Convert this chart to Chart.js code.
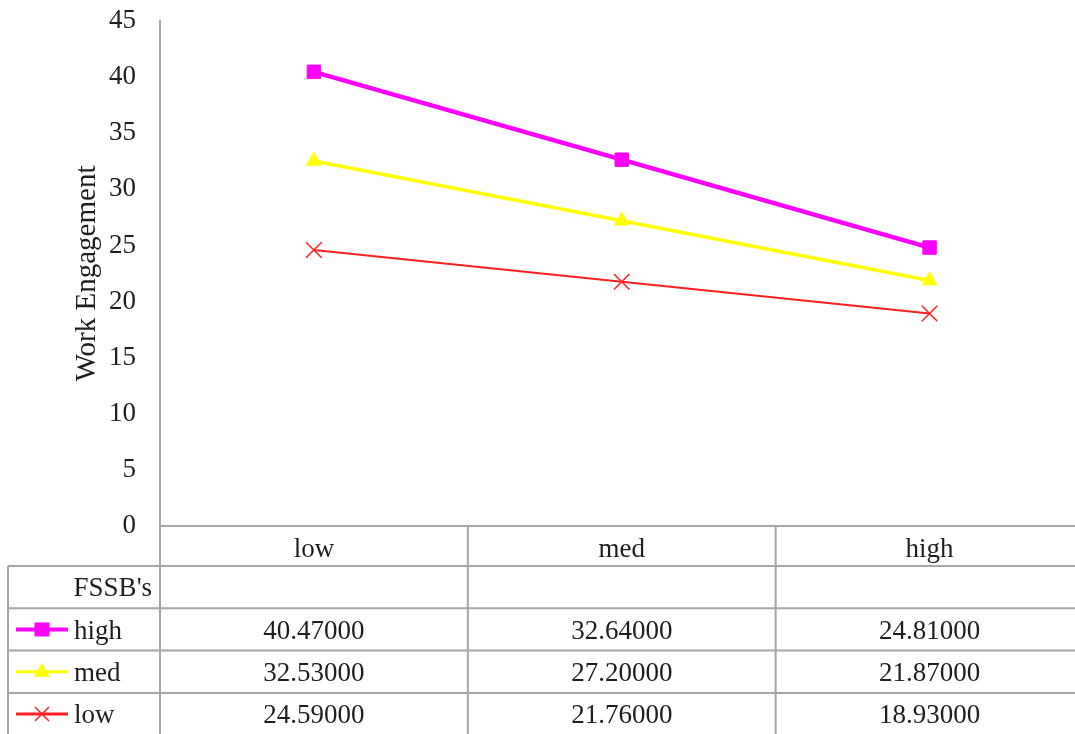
<!DOCTYPE html>
<html>
<head>
<meta charset="utf-8">
<title>Work Engagement by FSSB's</title>
<script src="https://cdn.jsdelivr.net/npm/chart.js@4/dist/chart.umd.min.js"></script>
<style>
  html, body { margin: 0; padding: 0; background: #ffffff; overflow: hidden; }
  canvas { display: block; }
</style>
</head>
<body>
<canvas id="chart" width="1096" height="734"></canvas>
<script>
// Supervisor support levels on the x axis
const categories = ['low', 'med', 'high'];
// Work engagement means, one array per FSSB's level
const highFSSB = [40.47, 32.64, 24.81];
const medFSSB  = [32.53, 27.20, 21.87];
const lowFSSB  = [24.59, 21.76, 18.93];
const seriesNames = ['high', 'med', 'low'];
const tableHeader = "FSSB's";
const yTitle = 'Work Engagement';
const yMin = 0, yMax = 45, yStep = 5;

const FONT = "'Liberation Serif', 'Times New Roman', serif";
const GRID = '#a6a6a6';
const TEXT = '#1e1e1e';
const LABEL_SIZE = 27;

const styles = [
  { color: '#ff00ff', width: 4.5, point: 'rect',     radius: 9.5, pointBorder: 1 },
  { color: '#ffff00', width: 3.5, point: 'triangle', radius: 8.5, pointBorder: 1 },
  { color: '#ff2020', width: 2,   point: 'crossRot', radius: 11,  pointBorder: 1.5 }
];
const seriesData = [highFSSB, medFSSB, lowFSSB];

const datasets = seriesData.map((d, i) => ({
  label: seriesNames[i],
  data: d,
  borderColor: styles[i].color,
  backgroundColor: styles[i].color,
  borderWidth: styles[i].width,
  pointStyle: styles[i].point,
  pointRadius: styles[i].radius,
  pointHoverRadius: styles[i].radius,
  pointBorderWidth: styles[i].pointBorder,
  pointBorderColor: styles[i].color,
  pointBackgroundColor: styles[i].color,
  tension: 0,
  fill: false
}));

// Small legend key used inside the data table
function drawKey(ctx, style, cx, cy) {
  ctx.save();
  ctx.strokeStyle = style.color;
  ctx.fillStyle = style.color;
  ctx.lineWidth = style.point === 'rect' ? 4 : 3;
  ctx.beginPath();
  ctx.moveTo(cx - 26, cy);
  ctx.lineTo(cx + 26, cy);
  ctx.stroke();
  if (style.point === 'rect') {
    ctx.fillRect(cx - 7.5, cy - 7, 15, 14);
  } else if (style.point === 'triangle') {
    ctx.beginPath();
    ctx.moveTo(cx, cy - 9);
    ctx.lineTo(cx + 8, cy + 5);
    ctx.lineTo(cx - 8, cy + 5);
    ctx.closePath();
    ctx.fill();
  } else {
    ctx.lineWidth = 1.5;
    ctx.beginPath();
    ctx.moveTo(cx - 7, cy - 7); ctx.lineTo(cx + 7, cy + 7);
    ctx.moveTo(cx + 7, cy - 7); ctx.lineTo(cx - 7, cy + 7);
    ctx.stroke();
  }
  ctx.restore();
}

// Data table under the category axis, laid out on the x scale's columns
const dataTablePlugin = {
  id: 'dataTable',
  afterDraw(chart) {
    const { ctx } = chart;
    const x = chart.scales.x;
    const n = categories.length;
    const step = x.width / n;
    const headTop = x.bottom;
    const rowH = 42.3;
    const rows = 1 + seriesData.length;
    const tableLeft = 8;
    const bottom = headTop + rowH * rows;
    const textShift = 2;

    ctx.save();
    ctx.strokeStyle = GRID;
    ctx.lineWidth = 2;
    ctx.beginPath();
    for (let r = 0; r <= rows; r++) {
      const y = headTop + r * rowH;
      ctx.moveTo(tableLeft, y);
      ctx.lineTo(x.right, y);
    }
    for (let i = 0; i <= n; i++) {
      const xx = x.left + i * step;
      ctx.moveTo(xx, x.top);
      ctx.lineTo(xx, bottom);
    }
    ctx.moveTo(tableLeft, headTop);
    ctx.lineTo(tableLeft, bottom);
    ctx.stroke();

    ctx.fillStyle = TEXT;
    ctx.font = LABEL_SIZE + 'px ' + FONT;
    ctx.textBaseline = 'middle';
    ctx.textAlign = 'right';
    ctx.fillText(tableHeader, x.left - 8, headTop + rowH / 2 + textShift);

    seriesData.forEach((d, r) => {
      const cy = headTop + (r + 1) * rowH + rowH / 2;
      drawKey(ctx, styles[r], 42, cy);
      ctx.fillStyle = TEXT;
      ctx.textAlign = 'left';
      ctx.fillText(seriesNames[r], 74, cy + textShift);
      ctx.textAlign = 'center';
      d.forEach((v, i) => {
        ctx.fillText(v.toFixed(5), x.getPixelForValue(i), cy + textShift);
      });
    });
    ctx.restore();
  }
};

new Chart(document.getElementById('chart'), {
  type: 'line',
  data: { labels: categories, datasets },
  options: {
    responsive: false,
    animation: false,
    layout: { padding: { top: 21, right: 0, bottom: 168, left: 0 } },
    plugins: {
      legend: { display: false },
      tooltip: { enabled: false },
      title: { display: false }
    },
    scales: {
      x: {
        type: 'category',
        offset: true,
        grid: { display: false, drawTicks: false },
        border: { display: true, color: GRID, width: 2 },
        ticks: {
          color: TEXT,
          padding: 8,
          font: { family: FONT, size: LABEL_SIZE }
        },
        afterFit(scale) { scale.height = 40; }
      },
      y: {
        min: yMin,
        max: yMax,
        grid: { display: false, drawTicks: true, tickLength: 24 },
        border: { display: true, color: GRID, width: 2 },
        ticks: {
          stepSize: yStep,
          color: TEXT,
          padding: 0,
          font: { family: FONT, size: LABEL_SIZE }
        },
        title: {
          display: true,
          text: yTitle,
          color: TEXT,
          padding: { top: 70, bottom: 0 },
          font: { family: FONT, size: 29 }
        },
        afterFit(scale) { scale.width = 160; }
      }
    }
  },
  plugins: [dataTablePlugin]
});
</script>
</body>
</html>
